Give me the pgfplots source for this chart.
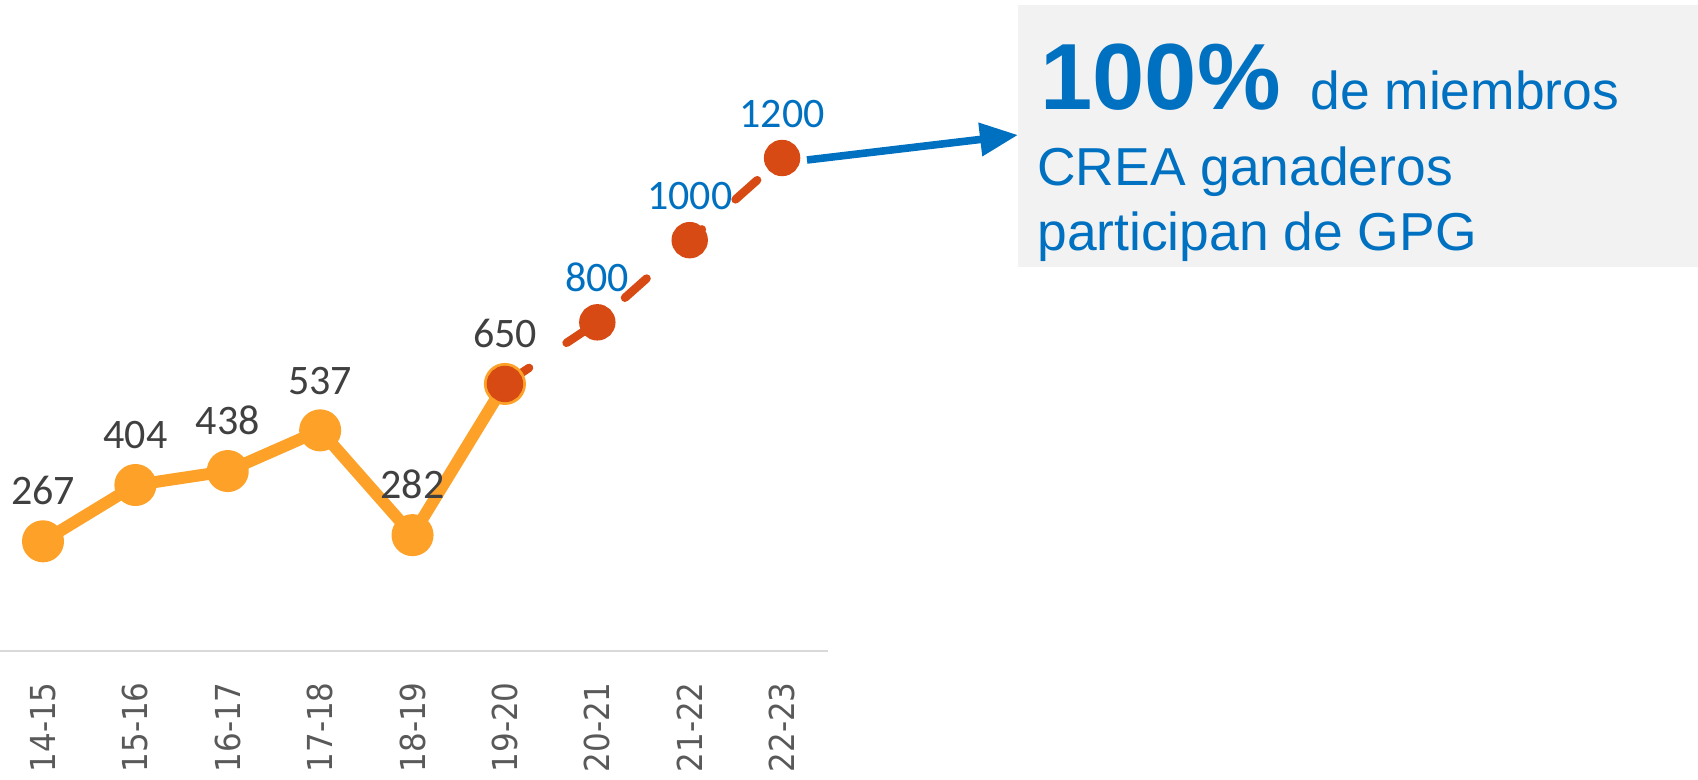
\documentclass[border=0pt]{standalone}
\usepackage{fontspec}
\usepackage{pgfplots}
\pgfplotsset{compat=1.18}
\usetikzlibrary{arrows.meta}
\setmainfont{Liberation Sans}
\newfontfamily\labfont{Carlito}
\newfontfamily\tickfont{DejaVu Sans Condensed}
\definecolor{orangeA}{HTML}{FDA128}
\definecolor{redA}{HTML}{D84A14}
\definecolor{blueA}{HTML}{0070C0}
\definecolor{labgray}{HTML}{404040}
\definecolor{tickgray}{HTML}{595959}
\definecolor{axisgray}{HTML}{D9D9D9}
\definecolor{boxgray}{HTML}{F2F2F2}
\begin{document}
\begin{tikzpicture}
\begin{axis}[
  at={(0pt,0pt)}, anchor=south west,
  scale only axis,
  width=414pt, height=256.77pt,
  xmin=-0.4655, xmax=8.497,
  ymin=0, ymax=1250,
  clip=false,
  axis x line=bottom,
  axis y line=none,
  axis line style={-},
  x axis line style={draw=axisgray, line width=1pt},
  ytick=\empty,
  xtick={0,1,2,3,4,5,6,7,8},
  xticklabels={14-15,15-16,16-17,17-18,18-19,19-20,20-21,21-22,22-23},
  xtick style={draw=none},
  major tick length=0pt,
  xticklabel shift=15.5pt,
  xticklabel style={rotate=90, anchor=east, inner sep=0pt, font=\tickfont\fontsize{17.2}{17.2}\selectfont, text=tickgray},
]
\addplot[orangeA, line width=6pt, line join=round, mark=*, mark size=7.5pt,
  mark options={fill=orangeA, draw=none},
  point meta=explicit symbolic,
  nodes near coords={\labfont\fontsize{21}{21}\selectfont\pgfplotspointmeta},
  nodes near coords style={anchor=south, inner sep=0pt, yshift=15pt, text=labgray}]
  coordinates {(0,267)[267] (1,404)[404] (2,438)[438] (3,537)[537] (4,282)[282] (5,650)[650]};
\addplot[redA, line width=4.2pt, line cap=round, dash pattern=on 14.5pt off 22.5pt,
  mark=*, mark size=7pt, mark options={solid, fill=redA, draw=none}]
  coordinates {(5,650) (6,800) (7,1000) (8,1200)};
\addplot[draw=none, mark=none,
  point meta=explicit symbolic,
  nodes near coords={\labfont\fontsize{21}{21}\selectfont\pgfplotspointmeta},
  nodes near coords style={anchor=south, inner sep=0pt, yshift=15pt, text=blueA}]
  coordinates {(6,800)[800] (7,1000)[1000] (8,1200)[1200]};
\end{axis}
\fill[boxgray] (509pt,192pt) rectangle (849pt,323pt);
\draw[line width=3.8pt, blueA, -{Triangle[length=19pt,width=16pt]}] (403.5pt,245.5pt) -- (509pt,258pt);
\node[anchor=base west, inner sep=0pt, text=blueA, font=\fontsize{47}{47}\selectfont\bfseries] at (520pt,270.5pt) {100\%};
\node[anchor=base west, inner sep=0pt, text=blueA, font=\fontsize{26.7}{32}\selectfont] at (655pt,270.5pt) {de miembros};
\node[anchor=base west, inner sep=0pt, text=blueA, font=\fontsize{26.7}{32}\selectfont] at (518.5pt,232.5pt) {CREA ganaderos};
\node[anchor=base west, inner sep=0pt, text=blueA, font=\fontsize{26.7}{32}\selectfont] at (518.5pt,200pt) {participan de GPG};
\pgfresetboundingbox
\useasboundingbox (0pt,-64.5pt) rectangle (849pt,325.5pt);
\end{tikzpicture}
\end{document}
